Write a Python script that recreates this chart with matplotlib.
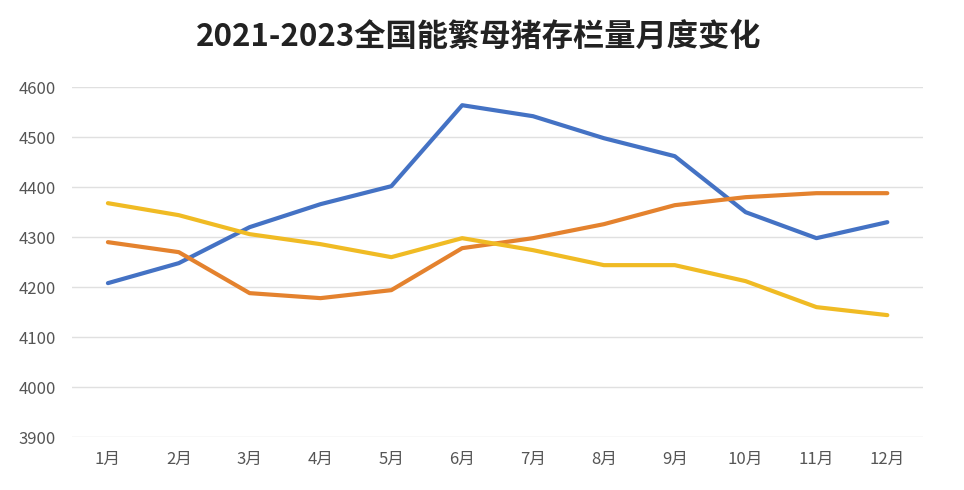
import matplotlib.pyplot as plt

plt.rcParams['font.family'] = ['Noto Sans CJK SC', 'DejaVu Sans']

# monthly sow inventory (万头)
months = ['1月', '2月', '3月', '4月', '5月', '6月',
          '7月', '8月', '9月', '10月', '11月', '12月']
y2021 = [4208, 4248, 4320, 4366, 4402, 4564, 4542, 4498, 4462, 4350, 4298, 4330]
y2022 = [4290, 4270, 4188, 4178, 4194, 4278, 4298, 4326, 4364, 4380, 4388, 4388]
y2023 = [4368, 4344, 4306, 4286, 4260, 4298, 4274, 4244, 4244, 4212, 4160, 4144]
yticks = [3900, 4000, 4100, 4200, 4300, 4400, 4500, 4600]

fig = plt.figure(figsize=(9.64, 4.9), dpi=100)
ax = fig.add_axes([0.0752, 0.108, 0.882, 0.714])

x = range(len(months))
ax.plot(x, y2021, c='#4472C4', lw=3, solid_capstyle='round', zorder=3)
ax.plot(x, y2022, c='#E4822E', lw=3, solid_capstyle='round', zorder=3)
ax.plot(x, y2023, c='#F0BB24', lw=3, solid_capstyle='round', zorder=3)

ax.set_xlim(-0.5, 11.5)
ax.set_ylim(3900, 4600)
ax.set_yticks(yticks)
ax.set_xticks(list(x))
ax.set_xticklabels(months)
ax.grid(axis='y', color='#e0e0e0', lw=1)
ax.set_axisbelow(True)
for s in ax.spines.values():
    s.set_visible(False)
ax.tick_params(length=0, labelsize=12, colors='#555555')
ax.tick_params(axis='y', pad=12)
ax.tick_params(axis='x', pad=10)

fig.text(0.497, 0.922, '2021-2023全国能繁母猪存栏量月度变化',
         ha='center', va='center', fontsize=22.5, fontweight='bold', color='#222222')

fig.savefig('out.png', dpi=100, facecolor='white')
